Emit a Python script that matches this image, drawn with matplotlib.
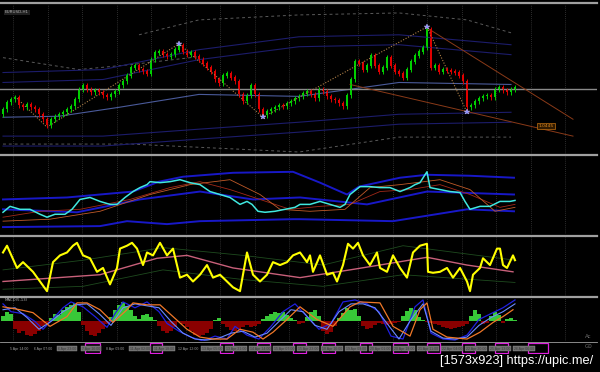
import matplotlib
matplotlib.use("Agg")
import matplotlib.pyplot as plt
from matplotlib.patches import Rectangle
from matplotlib.lines import Line2D
import numpy as np

# ---------------- DATA ----------------
OPEN0 = 1.0470
CLOSES = [
    1.0480, 1.0494, 1.0500, 1.0504, 1.0488, 1.0484, 1.0490, 1.0484, 1.0480, 1.0470,
    1.0460, 1.0448, 1.0460, 1.0466, 1.0470, 1.0474, 1.0480, 1.0486, 1.0500, 1.0520,
    1.0528, 1.0520, 1.0514, 1.0518, 1.0514, 1.0508, 1.0504, 1.0510, 1.0516, 1.0528,
    1.0536, 1.0548, 1.0564, 1.0568, 1.0560, 1.0556, 1.0552, 1.0580, 1.0594, 1.0596,
    1.0590, 1.0586, 1.0590, 1.0600, 1.0608, 1.0596, 1.0590, 1.0594, 1.0586, 1.0580,
    1.0572, 1.0564, 1.0556, 1.0540, 1.0532, 1.0548, 1.0552, 1.0544, 1.0536, 1.0510,
    1.0496, 1.0508, 1.0528, 1.0510, 1.0480, 1.0468, 1.0476, 1.0480, 1.0484, 1.0488,
    1.0486, 1.0492, 1.0496, 1.0502, 1.0506, 1.0512, 1.0516, 1.0510, 1.0502, 1.0520,
    1.0516, 1.0506, 1.0500, 1.0498, 1.0492, 1.0486, 1.0508, 1.0540, 1.0576, 1.0572,
    1.0560, 1.0568, 1.0588, 1.0568, 1.0556, 1.0564, 1.0584, 1.0568, 1.0556, 1.0552,
    1.0544, 1.0560, 1.0576, 1.0588, 1.0596, 1.0604, 1.0640, 1.0564, 1.0568, 1.0556,
    1.0560, 1.0558, 1.0556, 1.0554, 1.0548, 1.0536, 1.0484, 1.0488, 1.0496, 1.0502,
    1.0506, 1.0508, 1.0504, 1.0520, 1.0524, 1.0518, 1.0514, 1.0520, 1.0524,
]
WICK = 0.0005

MA_X = [0, 14, 29, 49, 74, 99, 127]
MA_Y = [1.0464, 1.0466, 1.0484, 1.0510, 1.0506, 1.0534, 1.0530]
BAND_X = [0, 25, 49, 74, 99, 127]
UB1 = [1.0554, 1.0560, 1.0600, 1.0626, 1.0630, 1.0610]
UB2 = [1.0534, 1.0540, 1.0580, 1.0606, 1.0610, 1.0590]
LB1 = [1.0426, 1.0426, 1.0440, 1.0454, 1.0470, 1.0474]
LB2 = [1.0406, 1.0406, 1.0420, 1.0434, 1.0450, 1.0454]
ENV_UP_X = [34, 49, 74, 99, 116, 127]
ENV_UP_Y = [1.0630, 1.0660, 1.0670, 1.0674, 1.0660, 1.0634]
ENV_UP2_X = [0, 19, 32, 49]
ENV_UP2_Y = [1.0584, 1.0560, 1.0570, 1.0586]
ENV_LO_X = [0, 32, 74, 99, 127]
ENV_LO_Y = [1.0410, 1.0410, 1.0394, 1.0424, 1.0424]
ZZ_X = [3, 11, 44, 65, 106, 116]
ZZ_Y = [1.0506, 1.0444, 1.0612, 1.0464, 1.0646, 1.0474]
TL_A_X = [106, 142.5]
TL_A_Y = [1.0644, 1.0460]
TL_B_X = [86.75, 142.5]
TL_B_Y = [1.0530, 1.0426]
HLINE = 1.0520
LABEL_X, LABEL_Y, LABEL_TXT = 135.75, 1.0446, "1.0445"

# panel 2 (levels)
CY_X = [0, 1.75, 4.25, 6.75, 9.25, 11, 13, 15.5, 17.25, 19.25, 21.75, 24.25, 26.75, 28.5,
        30.5, 32.5, 34.25, 36, 36.75, 39.25, 41.75, 44.25, 46.75, 49.25, 51.75, 54.25,
        56.75, 59.25, 61, 62.25, 63.75, 65.5, 68, 70.5, 73, 74.25, 76.75, 79.25, 81.75,
        84.25, 85.5, 86.75, 89.25, 91.75, 94.25, 96.75, 99.25, 101.75, 103, 104.25,
        105.5, 106, 106.75, 109.25, 111.75, 114.25, 115.5, 116.75, 119.25, 121.75,
        124.25, 126.75, 128]
CY_Y = [22, 28, 25, 25, 20, 17, 20, 20, 25, 35, 37, 33, 30, 30,
        37, 43, 47, 50, 53, 52, 53, 55, 52, 50, 43, 40,
        37, 30, 33, 30, 23, 22, 23, 25, 27, 30, 30, 33, 30,
        27, 30, 40, 48, 48, 47, 47, 43, 47, 50, 52,
        60, 63, 47, 45, 43, 42, 33, 25, 28, 28,
        33, 33, 34]
BU_X = [0, 16, 32.5, 39, 45, 57.5, 72.5, 79.25, 86, 89, 99.25, 106, 116.75, 127.75]
BU_Y = [35, 37, 43, 53, 58, 62, 63, 52, 40, 48, 57, 60, 59, 57]
BM_X = [0, 18.5, 34.25, 49.25, 62.5, 74.25, 91, 106, 127.75]
BM_Y = [25, 22, 35, 43, 35, 37, 30, 43, 40]
BL_X = [0, 24.25, 31, 41, 49.25, 72.5, 74.25, 97.5, 116, 127.75]
BL_Y = [7, 8, 13, 10, 13, 15, 15, 13, 25, 23]
R1_X = [0, 9.25, 19.25, 31.75, 41.75, 49.25, 56.75, 64.25, 71.75, 79.25, 86.75, 94.25,
        101.75, 109.25, 116.75, 124.25, 128]
R1_Y = [17, 23, 25, 35, 47, 53, 45, 35, 25, 28, 30, 43, 45, 50, 40, 27, 30]
R2_X = [0, 11.75, 24.25, 36.75, 46.75, 56.75, 64.25, 69.25, 76.75, 85.5, 91.75, 99.25,
        109.25, 116.75, 123, 128]
R2_Y = [13, 15, 23, 40, 50, 55, 40, 25, 23, 25, 47, 50, 55, 45, 23, 27]

# panel 3 (levels)
YL_X = [0, 1, 3.5, 5, 7.5, 9.25, 11, 12.5, 14.25, 16, 17.5, 18.5, 20, 21.75, 23.5, 25,
        26.75, 28.5, 29.25, 31, 32.25, 33.5, 35, 36, 37.5, 39.25, 41, 42.5, 44.25, 46,
        47.5, 49.25, 51, 52.5, 54.25, 56, 57.5, 59.25, 61, 62.5, 64.25, 66, 67.5, 69.25,
        71, 72.5, 74.25, 76, 76.75, 77.5, 79.25, 81, 82.5, 83.5, 85, 86.25, 87.5, 88.75,
        90, 91.75, 93.5, 94.25, 96, 97.5, 99.25, 101, 102.5, 104.25, 106, 106.25, 107.5,
        109.25, 111, 112.5, 114.25, 116, 116.75, 117.5, 119.25, 120, 121.75, 123.5,
        124.25, 125, 126, 127.5, 128]
YL_Y = [43, 50, 27, 33, 23, 13, 3, 33, 40, 43, 50, 53, 40, 37, 23, 27,
        10, 27, 47, 50, 53, 47, 30, 43, 40, 53, 40, 47, 17, 20,
        13, 20, 30, 17, 20, 13, 7, 3, 43, 20, 13, 20, 33, 30,
        33, 40, 43, 33, 40, 23, 40, 20, 22, 13, 30, 52, 47, 53,
        40, 30, 43, 27, 23, 40, 27, 17, 43, 50, 52, 23, 22,
        23, 27, 17, 27, 13, 3, 20, 27, 37, 30, 47,
        47, 30, 27, 40, 35]
PK_X = [0, 24.25, 38.5, 46, 57.5, 74.25, 86.75, 106, 116, 127.5]
PK_Y = [13, 20, 37, 40, 27, 17, 25, 38, 30, 23]
GU_X = [0, 20, 40, 60, 80, 100, 128]
GU_Y = [25, 35, 48, 40, 30, 50, 35]
GD_X = [0, 20, 40, 60, 80, 100, 128]
GD_Y = [5, 8, 25, 15, 8, 20, 12]

# panel 4 (levels)
HIST = [6, 10, 8, -8, -12, -10, -14, -15, -13, -10,
        -5, -2, 4, 8, 7, 12, 15, 17, 19, 10,
        -4, -10, -14, -15, -12, -8, -3, 5, 12, 17,
        20, 16, 12, 6, 3, 7, 8, 5, 2, -5,
        -10, -12, -10, -6, -1, -3, -6, -10, -14, -15,
        -14, -12, -8, 2, 4, -3, -6, -9, -10, -8,
        -6, -4, -6, -5, -3, 3, 6, 8, 10, 9,
        10, 7, 4, 2, -3, -2, 5, 10, 12, 6,
        -10, -13, -11, -5, 4, 9, 14, 12, 13, 6,
        -5, -8, -7, -4, -2, -3, -4, -3, -2, -1,
        6, 11, 14, 12, 5, 2, -1, -2, -3, -4,
        -6, -7, -8, -7, -6, -5, -3, 6, 12, 8,
        -3, -2, 6, 10, 7, -2, 3, 4, 2]
OR_X = [0, 4.25, 7.5, 11.75, 16, 18.5, 21, 24.25, 27.5, 31, 32.5, 36, 39.25, 42.5, 46,
        49.25, 52.5, 56, 59.25, 62.5, 65, 67.5, 71, 74.25, 78.5, 82.5, 86.75, 89.25,
        94.25, 97.5, 101.75, 104.25, 106, 107.5, 111, 116, 119.25, 122.5, 125, 127.5]
OR_Y = [15, 12, 9, -5, 5, 19, 19, 12, -1, 12, 19, 17, 17, 5, -8,
        -16, -18, -18, -8, -11, -18, -11, 2, 15, 2, -5, 15, 20,
        19, -5, -15, 12, 19, -8, -16, -18, -11, -1, 5, 12]
DB_X = [0, 2, 5, 8, 10, 13, 15, 17, 20, 23, 26, 28, 30, 33, 36, 39, 41, 44, 47, 50, 53,
        56, 58, 61, 64, 67, 70, 73, 76, 79, 82, 85, 88, 91, 94, 97, 100, 103, 105, 107,
        110, 113, 116, 119, 122, 125, 128]
DB_Y = [18, 10, 8, 0, -8, 5, 14, 20, 15, 5, -6, 8, 20, 14, 20, 10, -2, -10, -16, -20, -15,
        -18, -5, -14, -18, -5, 10, 18, 5, -8, -2, 20, 22, 18, 10, -15, -18, 15, 22, -12,
        -18, -19, -14, 2, 8, 14, 22]
LB_X = [0, 3, 6, 9, 12, 15, 18, 21, 24, 27, 30, 33, 36, 39, 42, 45, 48, 51, 54, 57, 60,
        63, 66, 69, 72, 75, 78, 81, 84, 87, 90, 93, 96, 99, 102, 105, 107, 110, 113, 116,
        119, 122, 125, 128]
LB_Y = [12, 14, 4, -8, 0, 10, 17, 18, 8, -4, 14, 18, 16, 14, 0, -12, -18, -19, -17, -12,
        -10, -16, -12, 0, 12, 10, -4, -8, 10, 18, 18, 14, -2, -18, 2, 18, -10, -17, -18,
        -16, -4, 4, 10, 18]

TIME_LABELS = ["5 Apr 14:00", "6 Apr 07:00", "6 Apr 23:00", "7 Apr 16:00", "8 Apr 09:00",
               "11 Apr 02:00", "11 Apr 18:00", "12 Apr 12:00", "13 Apr 05:00",
               "13 Apr 21:00", "14 Apr 14:00", "15 Apr 07:00", "15 Apr 23:00",
               "18 Apr 16:00", "19 Apr 09:00", "20 Apr 01:00", "20 Apr 18:00",
               "21 Apr 11:00", "22 Apr 04:00", "22 Apr 20:00", "25 Apr 13:00",
               "26 Apr 06:00"]
TIME_BOXED = [False, False, True, True, False, True, True, False, True, True, True,
              True, True, True, True, True, True, True, True, True, True, True]
MAG_BOXES = [(20.5, 24.25), (36.75, 39.75), (54.25, 57.5), (63.5, 66.75), (72.5, 75.75),
             (79.75, 83), (89.25, 92.25), (97.5, 101.25), (106, 109.25), (114.75, 118),
             (123, 126.25), (131.25, 136.25)]

# ---------------- FIGURE ----------------
W, H = 600, 372
fig = plt.figure(figsize=(6, 3.72), dpi=100, facecolor='black')
XMIN, XMAX = -0.75, 148.5
GRID = [2.5 + 8.625 * k for k in range(17)]


def fy(py):
    return 1 - py / H


def add_ax(top, bottom, ylim, grid=True):
    ax = fig.add_axes([0, fy(bottom), 597 / 600, (bottom - top) / H])
    ax.set_facecolor('black')
    ax.set_xlim(XMIN, XMAX)
    ax.set_ylim(*ylim)
    for s in ax.spines.values():
        s.set_visible(False)
    ax.tick_params(length=0, labelbottom=False, labelleft=False)
    ax.set_yticks([])
    if grid:
        ax.set_xticks(GRID)
        ax.grid(axis='x', color='#3c3c3c', ls=(0, (1, 1.5)), lw=0.6)
    else:
        ax.set_xticks([])
    ax.set_axisbelow(True)
    return ax


ax1 = add_ax(4, 154, (1.0390, 1.0692))
ax2 = add_ax(156, 234, (0, 79))
ax3 = add_ax(237, 296, (-2, 59))
ax4 = add_ax(298, 341, (-20, 24))
ax5 = add_ax(342, 354, (0, 1), grid=False)

# ---- panel 1 ----
closes = np.array(CLOSES)
opens = np.concatenate([[OPEN0], closes[:-1]])
idx = np.arange(len(closes))
up = closes >= opens
cols = np.where(up, '#00d000', '#e00000')
highs = np.maximum(opens, closes) + WICK
lows = np.minimum(opens, closes) - WICK

for env_x, env_y in [(ENV_UP_X, ENV_UP_Y), (ENV_UP2_X, ENV_UP2_Y), (ENV_LO_X, ENV_LO_Y)]:
    ax1.plot(env_x, env_y, color='#5a5a5a', lw=0.7, ls=(0, (3, 3)))
for band in (UB1, UB2, LB1, LB2):
    ax1.plot(BAND_X, band, color='#1c1c6a', lw=0.8)
ax1.plot(MA_X, MA_Y, color='#4a5a9a', lw=0.8)
ax1.axhline(HLINE, color='#8a8a8a', lw=1.0)
ax1.plot(TL_A_X, TL_A_Y, color='#8a3a18', lw=0.7)
ax1.plot(TL_B_X, TL_B_Y, color='#8a3a18', lw=0.7)
ax1.plot(ZZ_X, ZZ_Y, color='#b08048', lw=0.8, ls=(0, (1, 1.5)))
ax1.vlines(idx, lows, highs, colors=cols, lw=0.7)
ax1.bar(idx, np.abs(closes - opens) + 0.00008, bottom=np.minimum(opens, closes),
        width=0.6, color=cols, edgecolor='none')
ax1.plot([ZZ_X[2], ZZ_X[3], ZZ_X[4], ZZ_X[5]], [ZZ_Y[2], ZZ_Y[3], ZZ_Y[4], ZZ_Y[5]],
         ls='none', marker='*', ms=4, color='#8f8fff', mec='#c0c0ff', mew=0.3)
ax1.text(LABEL_X, LABEL_Y, LABEL_TXT, fontsize=3.2, color='#e08a20', ha='center',
         va='center', bbox=dict(boxstyle='square,pad=0.2', fc='#301a00', ec='#c07010', lw=0.5))
ax1.text(0.5, 1.0675, "EURUSD,H1", fontsize=3, color='#b0b0b0', va='center',
         bbox=dict(boxstyle='square,pad=0.15', fc='#202020', ec='none'))

# ---- panel 2 ----
ax2.plot(BU_X, BU_Y, color='#1818c8', lw=1.4)
ax2.plot(BM_X, BM_Y, color='#1818c8', lw=1.4)
ax2.plot(BL_X, BL_Y, color='#1818c8', lw=1.4)
ax2.plot(R1_X, R1_Y, color='#a02818', lw=0.6)
ax2.plot(R2_X, R2_Y, color='#c05a28', lw=0.6)
ax2.plot(CY_X, CY_Y, color='#40e8e0', lw=1.1)

# ---- panel 3 ----
ax3.plot(GU_X, GU_Y, color='#1e4a1e', lw=0.6)
ax3.plot(GD_X, GD_Y, color='#1e4a1e', lw=0.6)
ax3.plot(PK_X, PK_Y, color='#c8607a', lw=1.0)
ax3.plot(YL_X, YL_Y, color='#ffff00', lw=1.5)

# ---- panel 4 ----
hist = np.array(HIST)
hcols = np.where(hist >= 0, '#38c838', '#8a0000')
ax4.bar(np.arange(len(hist)), hist, width=1.0, color=hcols, edgecolor='none')
ax4.plot(DB_X, DB_Y, color='#2020e0', lw=0.9)
ax4.plot(LB_X, LB_Y, color='#6a8aff', lw=0.8)
ax4.plot(OR_X, OR_Y, color='#f07828', lw=0.9)
ax4.text(0.3, 22, "MACD(5,13)", fontsize=2.8, color='#b0b0b0', va='center')

# ---- time axis ----
label_pos = [1.75 + 6.0 * k for k in range(len(TIME_LABELS))]
for x, t, boxed in zip(label_pos, TIME_LABELS, TIME_BOXED):
    if boxed:
        ax5.text(x, 0.45, t, fontsize=2.5, color='#3a3a3a', va='center', ha='left',
                 family='Liberation Sans',
                 bbox=dict(boxstyle='square,pad=0.2', fc='#6e6e6e', ec='#8a8a8a', lw=0.3))
    else:
        ax5.text(x, 0.45, t, fontsize=2.5, color='#a0a0a0', va='center', ha='left',
                 family='Liberation Sans')
for a, b in MAG_BOXES:
    ax5.add_patch(Rectangle((a, 0.05), b - a, 0.85, fill=False, ec='#e020e0', lw=0.9))

# separators
for py, lw in [(3, 1.6), (155, 1.6), (235.5, 1.6), (297, 1.6), (341.5, 0.6)]:
    fig.add_artist(Line2D([0, 597 / 600], [fy(py), fy(py)], color='#a0a0a0', lw=lw))

fig.text(585 / 600, fy(337), "Ac", fontsize=4, color='#707070', va='center')
fig.text(585 / 600, fy(347), "G0", fontsize=4, color='#707070', va='center')
fig.text(440 / 600, fy(361), "[1573x923] https://upic.me/", fontsize=9.2, color='white',
         va='center', ha='left', family='Liberation Sans')

fig.savefig('out.png', dpi=100, facecolor='black')
